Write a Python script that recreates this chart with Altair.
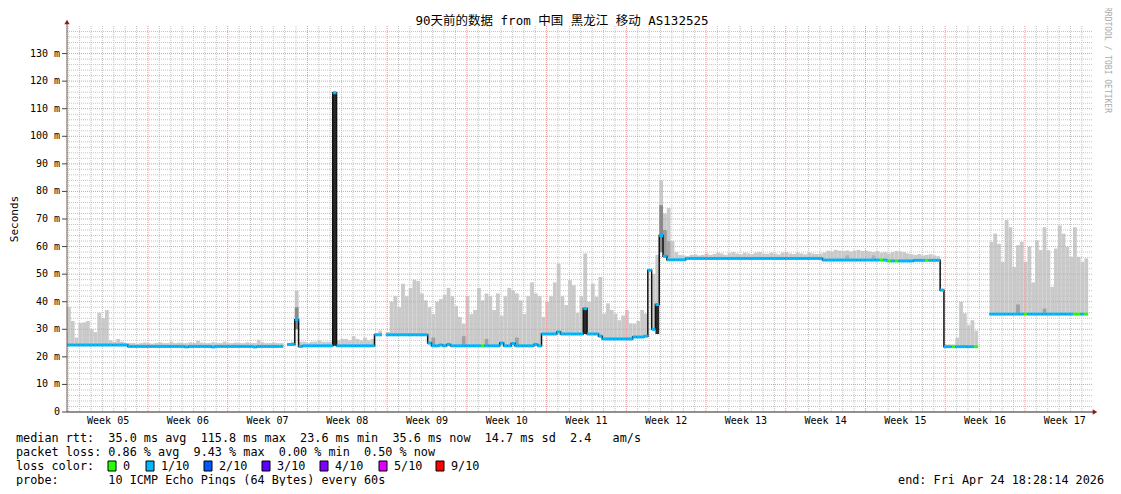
import altair as alt
import pandas as pd

# ---------------- data ----------------
BIN_DAYS = 1 / 3          # one sample bin = 8 hours
X_MAX_DAYS = 90
Y_MAX_MS = 140

# median RTT (ms) per 8h bin, None = no data
median = [
    # 0-9
    24.3, 24.3, 24.3, 24.3, 24.3, 24.3, 24.3, 24.3, 24.3, 24.3,
    # 10-19
    24.3, 24.3, 24.3, 24.3, 24.3, 24.3, 23.8, 23.8, 23.8, 23.8,
    # 20-29
    23.8, 23.8, 23.8, 23.8, 23.8, 23.8, 23.8, 23.8, 23.8, 23.8,
    # 30-39
    23.8, 23.6, 23.8, 23.8, 23.8, 23.8, 23.8, 23.8, 23.6, 23.8,
    # 40-49
    23.8, 23.8, 23.8, 23.8, 23.8, 23.8, 23.8, 23.8, 23.8, 23.6,
    # 50-59
    23.8, 23.8, 23.8, 23.8, 23.8, 23.8, 23.8, None, 24.5, 24.5,
    # 60-69
    33.5, 23.8, 24.0, 24.0, 24.0, 24.0, 24.0, 24.0, 24.0, 24.0,
    # 70-79
    115.8, 24.0, 24.0, 24.0, 24.0, 24.0, 24.0, 24.0, 24.0, 24.0,
    # 80-89
    24.0, 28.0, 28.0, None, 28.0, 28.0, 28.0, 28.0, 28.0, 28.0,
    # 90-99
    28.0, 28.0, 28.0, 28.0, 28.0, 25.0, 24.0, 24.0, 24.3, 24.0,
    # 100-109
    24.5, 24.0, 24.0, 24.0, 24.0, 24.0, 24.0, 24.0, 24.0, 24.0,
    # 110-119
    24.0, 24.0, 24.0, 24.0, 25.0, 24.0, 24.0, 24.8, 24.0, 24.0,
    # 120-129
    24.0, 24.0, 24.0, 24.5, 24.0, 28.3, 28.3, 28.3, 28.3, 29.0,
    # 130-139
    28.3, 28.3, 28.3, 28.3, 28.3, 28.3, 37.5, 28.3, 28.3, 28.3,
    # 140-149
    27.5, 26.5, 26.5, 26.5, 26.5, 26.5, 26.5, 26.5, 26.5, 27.2,
    # 150-159
    27.2, 27.2, 27.5, 51.4, 30.0, 39.0, 64.0, 56.5, 55.2, 55.2,
    # 160-169
    55.2, 55.2, 55.2, 55.7, 55.7, 55.7, 55.7, 55.7, 55.7, 55.7,
    # 170-179
    55.7, 55.7, 55.7, 55.7, 55.7, 55.7, 55.7, 55.7, 55.7, 55.7,
    # 180-189
    55.7, 55.7, 55.7, 55.7, 55.7, 55.7, 55.7, 55.7, 55.7, 55.7,
    # 190-199
    55.7, 55.7, 55.7, 55.7, 55.7, 55.7, 55.7, 55.7, 55.7, 55.1,
    # 200-209
    55.1, 55.1, 55.1, 55.1, 55.1, 55.1, 55.1, 55.1, 55.1, 55.1,
    # 210-219
    55.1, 55.1, 55.1, 55.1, 55.1, 55.1, 54.8, 54.8, 54.8, 54.8,
    # 220-229
    54.8, 54.8, 54.8, 55.0, 55.0, 55.0, 55.0, 55.0, 55.0, 55.0,
    # 230-239
    44.2, 23.7, 23.7, 23.7, 23.7, 23.7, 23.7, 23.7, 23.7, 23.7,
    # 240-249
    None, None, None, 35.5, 35.5, 35.5, 35.5, 35.5, 35.5, 35.5,
    # 250-259
    35.5, 35.5, 35.5, 35.5, 35.5, 35.5, 35.5, 35.5, 35.5, 35.5,
    # 260-269
    35.5, 35.5, 35.5, 35.5, 35.5, 35.5, 35.5, 35.5, 35.5, None,
]

# top of the smoke (max RTT, ms) per bin
smoke_max = [
    38, 33, 27, 32.3, 32.5, 33, 30, 29, 36, 34,
    37, 26, 25.5, 26.5, 25.5, 25, 25, 25, 24.8, 25,
    25.2, 25, 24.8, 25, 25.3, 25, 25, 25.5, 25, 25.2,
    25, 25, 25.3, 25, 25.8, 25.2, 25, 25, 25.3, 25,
    25, 25.5, 25, 25, 25.2, 25, 25, 25.3, 25, 25,
    26.2, 25.3, 25, 25, 25.2, 25, 25, None, 25, 25.5,
    44, 25.5, 25.5, 25, 25.5, 25.5, 26, 25.5, 25.5, 25.5,
    115.8, 26, 26.5, 26.5, 26, 27.5, 26.5, 26, 27, 26,
    26.5, 28.5, 29.5, None, 29, 40, 42, 38, 46.5, 42,
    45, 48, 47.5, 43, 40.5, 38, 35.5, 40, 41, 42.5,
    45, 42, 38.5, 34.5, 32, 42, 35.5, 37, 45, 40.5,
    43, 42, 37, 43, 35, 42, 45, 44, 43, 40.5,
    35.5, 42, 47, 43, 42, 34.5, 40, 42, 47, 53.8,
    42, 38.8, 47.8, 46, 36, 42, 57.5, 40, 46.6, 41.8,
    49, 35.7, 39.4, 37, 35.7, 33.3, 35, 37, 32.1, 32,
    33, 37, 35.7, 51.4, 50, 57, 84, 72, 74, 62,
    58, 57, 56.8, 56.5, 57, 57.2, 56.8, 57, 57.5, 57,
    57.3, 57.8, 57.5, 57, 57.6, 58, 57.5, 57.2, 57.8, 57.5,
    57.3, 57.8, 58, 57.5, 57.4, 57.8, 57.5, 57.2, 57.8, 58,
    57.5, 57.3, 57.8, 57.5, 57.2, 57.8, 57.5, 57.3, 57.5, 57.8,
    58.5, 58.2, 58.8, 58.5, 58.3, 58.6, 58.2, 58.5, 58.8, 58.4,
    58.5, 58.2, 58, 58.3, 57.8, 58, 57.5, 58, 58.4, 58.2,
    58, 57.5, 57.2, 57, 57.3, 56.8, 57, 57.2, 56.8, 56.5,
    44.2, 24.5, 24.5, 24.5, 27, 40, 35.8, 31.5, 33.3, 29.5,
    None, None, None, 61.7, 64.7, 61, 54.5, 69.6, 67, 52.6,
    60.5, 61.7, 54.5, 60, 47, 62.3, 58.7, 67, 58.7, 45.4,
    59.3, 67.7, 64.7, 60, 56.3, 67, 56.3, 54.5, 55.7, None,
]

# darker smoke patches: bin, low, high, shade
dark_bins = [60, 70, 136, 155, 156, 157, 158, 96, 104, 110, 118, 250, 257, 205, 212]
dark_lo = [30, 24, 28.3, 28.3, 58, 56, 56, 24, 24, 24, 24, 35.5, 35.5, 55.1, 55.1]
dark_hi = [38, 115.8, 37.5, 39, 75, 66, 62, 27, 27.5, 26.5, 27, 39, 37.5, 56.8, 56.8]
dark_shade = ["#8a8a8a", "#2b2b2b", "#2b2b2b", "#2b2b2b", "#8a8a8a", "#9a9a9a",
              "#a8a8a8", "#a0a0a0", "#a0a0a0", "#a0a0a0", "#a0a0a0", "#a0a0a0",
              "#a0a0a0", "#b0b0b0", "#b0b0b0"]

# bins whose median is drawn in the "0 loss" colour
green_bins = [109, 214, 216, 218, 226, 233, 239, 252, 265, 266, 268]

week_labels = ["Week 05", "Week 06", "Week 07", "Week 08", "Week 09", "Week 10",
               "Week 11", "Week 12", "Week 13", "Week 14", "Week 15", "Week 16",
               "Week 17"]
week_label_days = [3.61, 10.61, 17.61, 24.61, 31.61, 38.61, 45.61, 52.61,
                   59.61, 66.61, 73.61, 80.61, 87.61]
week_boundaries = [7.11, 14.11, 21.11, 28.11, 35.11, 42.11, 49.11, 56.11,
                   63.11, 70.11, 77.11, 84.11]
y_ticks = [0, 10, 20, 30, 40, 50, 60, 70, 80, 90, 100, 110, 120, 130]
y_tick_labels = ["0  ", "10 m", "20 m", "30 m", "40 m", "50 m", "60 m", "70 m",
                 "80 m", "90 m", "100 m", "110 m", "120 m", "130 m"]
y_minor = [v for v in range(2, Y_MAX_MS, 2) if v % 10 != 0]
day_lines = [week_boundaries[0] - k for k in range(7, 0, -1)] + \
            [b + k for b in week_boundaries for k in range(1, 7)]
day_lines = [d for d in day_lines if 0 <= d <= X_MAX_DAYS]

title_text = "90天前的数据 from 中国 黑龙江 移动 AS132525"
stat_lines = [
    "median rtt:  35.0 ms avg  115.8 ms max  23.6 ms min  35.6 ms now  14.7 ms sd  2.4   am/s",
    "packet loss: 0.86 % avg  9.43 % max  0.00 % min  0.50 % now",
    "loss color:",
    "probe:       10 ICMP Echo Pings (64 Bytes) every 60s",
]
end_text = "end: Fri Apr 24 18:28:14 2026"
loss_names = ["0", "1/10", "2/10", "3/10", "4/10", "5/10", "9/10"]
loss_colors = ["#26ff00", "#00b8ff", "#0059ff", "#5e00ff", "#7e00ff", "#dd00ff", "#ff0000"]

# ---------------- layout ----------------
W, H = 1025, 386
MONO = "DejaVu Sans Mono"
CJK = "DejaVu Sans Mono, Noto Sans CJK SC"
LEFT_TEXT = -51
ROW0 = 412
ROW_STEP = 14
FS_LEGEND = 11.8
loss_square_px = [41, 79, 137, 195, 253, 312, 369]   # left edges of the legend boxes

xs = alt.Scale(domain=[0, X_MAX_DAYS], nice=False, zero=False)
ys = alt.Scale(domain=[0, Y_MAX_MS], nice=False, zero=False)

n = len(median)
df = pd.DataFrame({
    "d": [i * BIN_DAYS for i in range(n)],
    "median": median,
    "smoke_max": smoke_max,
})
df["d_end"] = df["d"] + BIN_DAYS
df["loss"] = ["0" if i in green_bins else "1/10" for i in range(n)]

dark_df = pd.DataFrame({
    "d": [b * BIN_DAYS for b in dark_bins],
    "lo": dark_lo, "hi": dark_hi, "shade": dark_shade,
})
dark_df["d_end"] = dark_df["d"] + BIN_DAYS

minor_v = alt.Chart(pd.DataFrame({"x": day_lines})).mark_rule(
    color="#c4c4c4", strokeDash=[1, 1], strokeWidth=1
).encode(x=alt.X("x:Q", scale=xs, axis=None))
minor_h = alt.Chart(pd.DataFrame({"y": y_minor})).mark_rule(
    color="#c4c4c4", strokeDash=[1, 1], strokeWidth=1
).encode(y=alt.Y("y:Q", scale=ys, axis=None))
major_v = alt.Chart(pd.DataFrame({"x": week_boundaries})).mark_rule(
    color="#e89a9a", strokeDash=[1, 1], strokeWidth=1
).encode(x=alt.X("x:Q", scale=xs, axis=None))
major_h = alt.Chart(pd.DataFrame({"y": y_ticks[1:]})).mark_rule(
    color="#e89a9a", strokeDash=[1, 1], strokeWidth=1
).encode(y=alt.Y("y:Q", scale=ys, axis=None))

smoke = alt.Chart(df).transform_filter("isValid(datum.smoke_max)").mark_rect(
    color="#cacaca"
).encode(
    x=alt.X("d:Q", scale=xs, axis=None),
    x2="d_end:Q",
    y=alt.Y("median:Q", scale=ys, axis=None),
    y2="smoke_max:Q",
)

dark = alt.Chart(dark_df).mark_rect().encode(
    x=alt.X("d:Q", scale=xs, axis=None), x2="d_end:Q",
    y=alt.Y("lo:Q", scale=ys, axis=None), y2="hi:Q",
    color=alt.Color("shade:N", scale=None),
)

black_line = alt.Chart(df).mark_line(
    interpolate="step-after", color="#111111", strokeWidth=1.5
).encode(
    x=alt.X("d:Q", scale=xs, axis=None),
    y=alt.Y("median:Q", scale=ys, axis=None),
)

median_seg = alt.Chart(df).transform_filter("isValid(datum.median)").mark_rule(
    strokeWidth=3, strokeCap="butt"
).encode(
    x=alt.X("d:Q", scale=xs, axis=None), x2="d_end:Q",
    y=alt.Y("median:Q", scale=ys, axis=None),
    color=alt.Color("loss:N", scale=alt.Scale(domain=loss_names, range=loss_colors), legend=None),
)

ytick_df = pd.DataFrame({"v": y_ticks,
                         "lab": [s.replace(" ", "\u00a0") for s in y_tick_labels]})
y_labels = alt.Chart(ytick_df).mark_text(
    font=MONO, fontSize=10, color="#000", align="right", baseline="middle"
).encode(x=alt.value(-7), y=alt.Y("v:Q", scale=ys, axis=None), text="lab:N")
y_tickmarks = alt.Chart(ytick_df).mark_rule(color="#444", strokeWidth=1).encode(
    x=alt.value(-5), x2=alt.value(0), y=alt.Y("v:Q", scale=ys, axis=None))

one = pd.DataFrame({"k": [0]})
left_axis = alt.Chart(one).mark_rule(color="#7a5050", strokeWidth=1).encode(
    x=alt.value(0), y=alt.value(-3), y2=alt.value(H))
bottom_axis = alt.Chart(one).mark_rule(color="#222222", strokeWidth=1).encode(
    x=alt.value(0), x2=alt.value(W + 2), y=alt.value(H))
up_arrow = alt.Chart(one).mark_point(shape="triangle-up", filled=True, size=28,
                                     color="#8b1c1c", opacity=1).encode(
    x=alt.value(0), y=alt.value(-4))
right_arrow = alt.Chart(one).mark_point(shape="triangle-right", filled=True, size=28,
                                        color="#8b1c1c", opacity=1).encode(
    x=alt.value(W + 3), y=alt.value(H))

weeks = alt.Chart(pd.DataFrame({"day": week_label_days, "label": week_labels})).mark_text(
    font=MONO, fontSize=10, color="#000", baseline="middle", align="center"
).encode(x=alt.X("day:Q", scale=xs, axis=None), y=alt.value(H + 9), text="label:N")

def text_layer(txt, x, y, **kw):
    return alt.Chart(pd.DataFrame({"t": [txt]})).mark_text(**kw).encode(
        x=alt.value(x), y=alt.value(y), text="t:N")

title = text_layer(title_text, 495, -5, font=CJK, fontSize=12.5, color="#000",
                   align="center", baseline="middle")
ytitle = text_layer("Seconds", -52, 193, font=MONO, fontSize=11, color="#000",
                    align="center", baseline="middle", angle=270)
credit = text_layer("RRDTOOL / TOBI OETIKER", 1040, 34, font=MONO, fontSize=8,
                    color="#aaaaaa", align="center", baseline="middle", angle=90)

legend_df = pd.DataFrame({
    "t": [s.replace(" ", "\u00a0") for s in stat_lines],
    "py": [ROW0 + ROW_STEP * i for i in range(len(stat_lines))],
})
legend_text = alt.Chart(legend_df).mark_text(
    font=MONO, fontSize=FS_LEGEND, color="#000", align="left", baseline="middle"
).encode(x=alt.value(LEFT_TEXT), y=alt.Y("py:Q", scale=None), text="t:N")

end_layer = text_layer(end_text.replace(" ", "\u00a0"), 1037, ROW0 + ROW_STEP * 3,
                       font=MONO, fontSize=FS_LEGEND, color="#000", align="right",
                       baseline="middle")

sq_df = pd.DataFrame({"c": loss_colors, "name": loss_names, "px": loss_square_px})
sq_df["px2"] = sq_df["px"] + 8
sq_df["tx"] = sq_df["px"] + 15
sq_df["py"] = ROW0 + ROW_STEP * 2 - 5
sq_df["py2"] = sq_df["py"] + 10
sq_df["ty"] = ROW0 + ROW_STEP * 2
squares = alt.Chart(sq_df).mark_rect(stroke="#000", strokeWidth=1).encode(
    x=alt.X("px:Q", scale=None), x2="px2:Q",
    y=alt.Y("py:Q", scale=None), y2="py2:Q",
    color=alt.Color("c:N", scale=None),
)
square_labels = alt.Chart(sq_df).mark_text(
    font=MONO, fontSize=FS_LEGEND, color="#000", align="left", baseline="middle"
).encode(x=alt.X("tx:Q", scale=None), y=alt.Y("ty:Q", scale=None), text="name:N")

chart = alt.layer(
    smoke, minor_v, minor_h, major_v, major_h, dark, black_line, median_seg,
    y_tickmarks, y_labels,
    left_axis, bottom_axis, up_arrow, right_arrow, weeks, title, ytitle, credit,
    legend_text, end_layer, squares, square_labels,
).properties(
    width=W, height=H,
    autosize=alt.AutoSizeParams(type="none"),
    padding={"left": 59, "top": 18, "right": 21, "bottom": 74},
    background="#ffffff",
).configure_view(stroke=None)

chart.save("out.html", embed_options={"renderer": "svg", "actions": False})
